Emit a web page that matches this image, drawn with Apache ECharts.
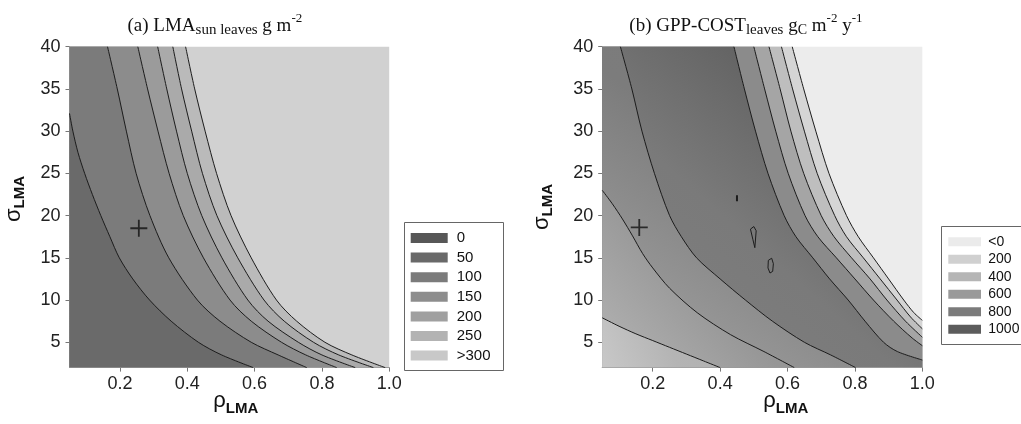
<!DOCTYPE html>
<html><head><meta charset="utf-8">
<script src="https://cdn.jsdelivr.net/npm/echarts@6/dist/echarts.min.js"></script>
<style>html,body{margin:0;padding:0;background:#fff}#c{width:1021px;height:424px}</style>
</head><body><div id="c"></div>
<script>
// ---------- axis ranges & ticks ----------
const X_MIN = 0.05, X_MAX = 1.0, Y_MIN = 2, Y_MAX = 40;
const xTicks = [0.2, 0.4, 0.6, 0.8, 1.0];
const yTicks = [5, 10, 15, 20, 25, 30, 35, 40];

// ---------- panel (a): LMA of sun leaves, contour lines [rho, sigma] ----------
const lmaLevels = ['0', '50', '100', '150', '200', '250', '>300'];
const lmaC1 = [[0.05,32.1],[0.06,30],[0.075,27.5],[0.095,25],[0.118,22.5],[0.143,20],[0.17,17.5],[0.198,15],[0.238,12.5],[0.288,10],[0.352,7.5],[0.433,5],[0.502,3.5],[0.596,2]];
const lmaC2 = [[0.163,40],[0.192,35],[0.219,30],[0.248,25],[0.289,20],[0.345,15],[0.43,10],[0.497,7.5],[0.59,5],[0.67,3.5],[0.755,2]];
const lmaC3 = [[0.253,40],[0.282,35],[0.313,30],[0.346,25],[0.388,20],[0.448,15],[0.527,10],[0.59,7.5],[0.68,5],[0.752,3.5],[0.844,2]];
const lmaC4 = [[0.312,40],[0.339,35],[0.368,30],[0.4,25],[0.443,20],[0.503,15],[0.58,10],[0.64,7.5],[0.73,5],[0.8,3.5],[0.899,2]];
const lmaC5 = [[0.357,40],[0.383,35],[0.413,30],[0.445,25],[0.488,20],[0.55,15],[0.628,10],[0.688,7.5],[0.775,5],[0.85,3.5],[0.953,2]];
const lmaC6 = [[0.395,40],[0.422,35],[0.453,30],[0.487,25],[0.53,20],[0.59,15],[0.665,10],[0.725,7.5],[0.809,5],[0.889,3.5],[0.988,2]];
const lmaOptimum = [[0.256, 18.5]];

// ---------- panel (b): GPP-COST of leaves, contour lines [rho, sigma] ----------
const gppLevels = ['<0', '200', '400', '600', '800', '1000'];
const gppC1 = [[0.05,7.9],[0.1,6.9],[0.15,6.0],[0.2,5.2],[0.25,4.4],[0.3,3.6],[0.35,2.8],[0.4,2.0]];
const gppC2 = [[0.05,23],[0.08,21.4],[0.11,19.6],[0.14,17.6],[0.17,15.5],[0.2,13.8],[0.25,11.4],[0.332,8.5],[0.431,5.9],[0.53,3.9],[0.62,2]];
const gppC3 = [[0.104,40],[0.138,35],[0.168,30],[0.205,25],[0.25,20],[0.285,17.5],[0.33,15],[0.4,12.5],[0.475,10],[0.555,7.5],[0.65,5],[0.728,3.5],[0.802,2]];
const gppC4 = [[0.441,40],[0.472,35],[0.505,30],[0.542,25],[0.59,20],[0.625,17.5],[0.675,15],[0.725,12.5],[0.78,10],[0.83,7.5],[0.885,5],[0.926,3.9],[1.0,2.9]];
const gppC5 = [[0.5,40],[0.532,35],[0.565,30],[0.602,25],[0.652,20],[0.69,17.5],[0.745,15],[0.8,12.5],[0.855,10],[0.915,7.5],[0.97,5.5],[1.0,4.6]];
const gppC6 = [[0.545,40],[0.578,35],[0.61,30],[0.648,25],[0.7,20],[0.738,17.5],[0.79,15],[0.845,12.5],[0.895,10],[0.95,7.5],[1.0,5.6]];
const gppC7 = [[0.582,40],[0.615,35],[0.65,30],[0.688,25],[0.74,20],[0.775,17.5],[0.825,15],[0.875,12.5],[0.925,10],[0.965,8],[1.0,6.6]];
const gppC8 = [[0.614,40],[0.648,35],[0.684,30],[0.723,25],[0.775,20],[0.81,17.5],[0.855,15],[0.9,12.5],[0.945,10],[0.975,8.5],[1.0,7.6]];
const gppIsland1 = [[0.45,22.4],[0.45,21.7]];
const gppIsland2 = [[0.490,18.4],[0.500,18.7],[0.507,18.2],[0.503,16.2],[0.497,17.2],[0.490,18.4]];
const gppIsland3 = [[0.543,14.7],[0.553,14.95],[0.558,14.3],[0.556,13.4],[0.548,13.2],[0.542,13.8],[0.543,14.7]];
const gppOptimum = [[0.16, 18.6]];

// ---------- styles ----------
function grad(stops){
  return {type:'linear', x:0, y:1, x2:1, y2:0, global:false,
    colorStops: stops.map(s => ({offset:s[0], color:s[1]}))};
}
const lmaFill = ['#6a6a6a','#7b7b7b','#8c8c8c','#9b9b9b','#aaaaaa','#bababa','#d1d1d1'];
const lmaLegendColors = ['#575757','#696969','#7b7b7b','#8d8d8d','#a0a0a0','#b3b3b3','#c8c8c8'];
const gppBg = '#ececec';
const gppFill = [
  grad([[0,'#c8c8c8'],[0.55,'#b4b4b4'],[1,'#b0b0b0']]),
  grad([[0,'#b0b0b0'],[0.12,'#adadad'],[0.5,'#969696'],[1,'#939393']]),
  grad([[0,'#9a9a9a'],[0.22,'#959595'],[0.55,'#7c7c7c'],[1,'#7a7a7a']]),
  grad([[0,'#808080'],[0.4,'#7a7a7a'],[0.7,'#626262'],[1,'#626262']]),
  '#8b8b8b', '#a5a5a5', '#bebebe', '#d5d5d5'];
const gppLegendColors = ['#ebebeb','#d0d0d0','#b5b5b5','#9a9a9a','#7b7b7b','#5c5c5c'];
const SANS = "'Liberation Sans', Arial, sans-serif";
const SERIF = "'Liberation Serif', 'Times New Roman', serif";

const grids = [
  {left: 69.5, top: 46.7, width: 319.7, height: 320.9},
  {left: 602.2, top: 46.7, width: 320.1, height: 320.9}
];

function mkX(gi){
  return {type:'value', gridIndex:gi, min:X_MIN, max:X_MAX,
    axisLine:{show:true, onZero:false, lineStyle:{color:'#999', width:1}},
    axisTick:{show:true, customValues:xTicks, length:4, lineStyle:{color:'#777'}},
    axisLabel:{customValues:xTicks, formatter:v=>Number(v).toFixed(1), fontSize:18, fontFamily:SANS, color:'#222', margin:7},
    splitLine:{show:false}};
}
function mkY(gi){
  return {type:'value', gridIndex:gi, min:Y_MIN, max:Y_MAX,
    axisLine:{show:true, onZero:false, lineStyle:{color:'#999', width:1}},
    axisTick:{show:true, customValues:yTicks, length:4, lineStyle:{color:'#777'}},
    axisLabel:{customValues:yTicks, formatter:v=>String(v), fontSize:18, fontFamily:SANS, color:'#222', margin:9},
    splitLine:{show:false}};
}

const SM = 0.3;
function addContours(series, gi, curves, fills){
  for (let k = curves.length - 1; k >= 0; k--) {
    const c = curves[k];
    let d = c;
    if (c[0][1] >= Y_MAX) {
      // curve enters through the top edge: close the filled region above the plot.
      // helper point continues the first segment straight upward (outside the plot), so the
      // smoothed fill boundary inside the plot is identical to the drawn contour line.
      const h = [2 * c[0][0] - c[1][0], 2 * c[0][1] - c[1][1]];
      d = [[X_MIN, h[1]], h].concat(c);
    }
    series.push({type:'line', xAxisIndex:gi, yAxisIndex:gi, data:d, symbol:'none',
      smooth:SM, lineStyle:{width:0, opacity:0},
      areaStyle:{color:fills[k], opacity:1}, silent:true, z:2, animation:false});
  }
  curves.forEach(c => series.push({type:'line', xAxisIndex:gi, yAxisIndex:gi, data:c, symbol:'none',
      smooth:SM, lineStyle:{color:'#1c1c1c', width:1}, silent:true, z:3, animation:false}));
}
const plusPath = 'path://M0,7.6L17,7.6L17,9.4L0,9.4Z M7.6,0L9.4,0L9.4,17L7.6,17Z';

const series = [];
addContours(series, 0, [lmaC1, lmaC2, lmaC3, lmaC4, lmaC5, lmaC6], lmaFill);
addContours(series, 1, [gppC1, gppC2, gppC3, gppC4, gppC5, gppC6, gppC7, gppC8], gppFill);
[gppIsland1, gppIsland2, gppIsland3].forEach((isl, i) => series.push({type:'line', xAxisIndex:1, yAxisIndex:1,
  data:isl, symbol:'none', smooth:false, lineStyle:{color:'#1c1c1c', width: i === 0 ? 2 : 1}, silent:true, z:4, animation:false}));
series.push({type:'scatter', xAxisIndex:0, yAxisIndex:0, data:lmaOptimum, symbol:plusPath, symbolSize:17, itemStyle:{color:'#111'}, z:5, silent:true, animation:false});
series.push({type:'scatter', xAxisIndex:1, yAxisIndex:1, data:gppOptimum, symbol:plusPath, symbolSize:17, itemStyle:{color:'#111'}, z:5, silent:true, animation:false});

// ---------- text layout helpers ----------
const ctx = document.createElement('canvas').getContext('2d');
function tw(text, font){ ctx.font = font; return ctx.measureText(text).width; }
function richRow(x, baseY, parts, family, k){
  const els = []; let cx = x;
  parts.forEach(p => {
    const font = (p.w || 'normal') + ' ' + p.s + 'px ' + family;
    els.push({type:'text', x:cx, y: baseY + (p.d || 0) - k * p.s, silent:true,
      style:{text:p.t, font:font, fill:'#111', align:'left', verticalAlign:'middle'}});
    cx += tw(p.t, font) + (p.gap || 0);
  });
  return els;
}
function vertName(x0, y0, parts){
  const children = []; let u = 0;
  parts.forEach(p => {
    const font = (p.w || 'normal') + ' ' + p.s + 'px ' + SANS;
    children.push({type:'text', x:u, y:(p.d || 0) - 0.35 * p.s, silent:true,
      style:{text:p.t, font:font, fill:'#111', align:'left', verticalAlign:'middle'}});
    u += tw(p.t, font);
  });
  return {type:'group', x:x0, y:y0, rotation:Math.PI/2, children:children};
}
function legendBox(x, y, w, h, labels, colors, x0sw, swW, swH, rowY0, rowStep, labX, fs){
  const els = [{type:'rect', shape:{x:x, y:y, width:w, height:h}, style:{fill:'#fff', stroke:'#666', lineWidth:1}, silent:true}];
  labels.forEach((lab, i) => {
    const cy = rowY0 + i * rowStep;
    els.push({type:'rect', shape:{x:x0sw, y:cy - swH/2, width:swW, height:swH}, style:{fill:colors[i]}, silent:true});
    els.push({type:'text', x:labX, y:cy, silent:true, style:{text:lab, font:fs + 'px ' + SANS, fill:'#111', align:'left', verticalAlign:'middle'}});
  });
  return els;
}

let graphics = [];
graphics = graphics.concat(richRow(127.5, 32.7, [
  {t:'(a) LMA', s:19}, {t:'sun leaves', s:15, d:2}, {t:' g m', s:19}, {t:'-2', s:13, d:-10}
], SERIF, 0.34));
graphics = graphics.concat(richRow(629.3, 32.7, [
  {t:'(b) GPP-COST', s:19}, {t:'leaves', s:15, d:2}, {t:' g', s:19}, {t:'C', s:14, d:2},
  {t:' m', s:19}, {t:'-2', s:13, d:-10}, {t:' y', s:19}, {t:'-1', s:13, d:-10}
], SERIF, 0.34));
graphics = graphics.concat(richRow(213.3, 408.3, [{t:'ρ', s:22}, {t:'LMA', s:15, w:'bold', d:5.5}], SANS, 0.35));
graphics = graphics.concat(richRow(763.3, 408.3, [{t:'ρ', s:22}, {t:'LMA', s:15, w:'bold', d:5.5}], SANS, 0.35));
graphics.push(vertName(22, 222, [{t:'σ', s:22}, {t:'LMA', s:15, w:'bold', d:3}]));
graphics.push(vertName(550, 230, [{t:'σ', s:22}, {t:'LMA', s:15, w:'bold', d:3}]));
graphics = graphics.concat(legendBox(404.5, 222.5, 99, 148, lmaLevels, lmaLegendColors, 410.7, 37, 10, 238, 19.6, 456.7, 15));
graphics = graphics.concat(legendBox(941.5, 226.5, 90, 118, gppLevels, gppLegendColors, 948.3, 32.7, 9, 241.7, 17.5, 988.3, 14));

const chart = echarts.init(document.getElementById('c'), null, {renderer:'canvas'});
chart.setOption({
  animation:false,
  backgroundColor:'#fff',
  grid: grids.map((g, i) => Object.assign({show:true, backgroundColor: i === 0 ? lmaFill[6] : gppBg, borderWidth:0, containLabel:false}, g)),
  xAxis: [mkX(0), mkX(1)],
  yAxis: [mkY(0), mkY(1)],
  series: series,
  graphic: graphics
});
</script></body></html>
